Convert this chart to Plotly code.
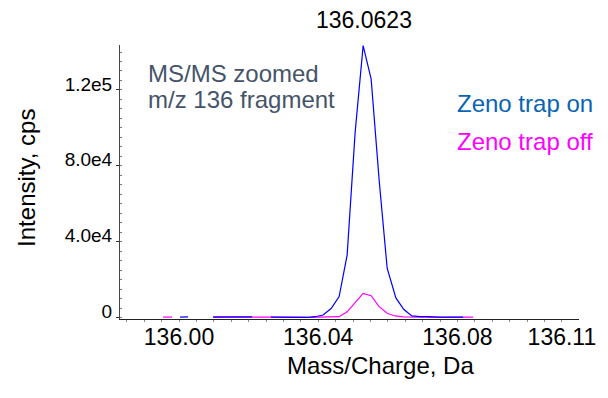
import plotly.graph_objects as go

# Zeno trap on (blue) - m/z and intensity (cps); None = gap in the profile
mz_on = [136.0003, 136.0026, None,
         136.0098, 136.0130, 136.0165, 136.0210, None,
         136.0264, 136.0300, 136.0335, 136.0371, 136.0391, 136.0414, 136.0437,
         136.0460, 136.0483, 136.0506, 136.0529, 136.0552, 136.0575, 136.0598,
         136.0623, 136.0646, 136.0669, 136.0692, 136.0715, 136.0750, 136.0784,
         136.0816]
int_on = [200, 300, None,
          300, 200, 400, 300, None,
          200, 300, 100, 100, 400, 1300, 4700,
          11000, 32900, 97600, 143400, 125700, 72400, 26000,
          10300, 4200, 800, 400, 500, 200, 300,
          200]

# Zeno trap off (magenta)
mz_off = [135.9954, 135.9980, None,
          136.0098, 136.0160, 136.0204, 136.0235, 136.0264, 136.0300, 136.0340,
          136.0371, 136.0414, 136.0460, 136.0483, 136.0506, 136.0529, 136.0552,
          136.0575, 136.0598, 136.0621, 136.0644, 136.0669, 136.0700, 136.0750,
          136.0800, 136.0845]
int_off = [200, 200, None,
           100, 200, 300, 200, 300, 100, 200,
           100, 200, 400, 3000, 7800, 12700, 11500,
           5700, 2200, 800, 300, 100, 200, 100,
           200, 200]

x_tickvals = [136.00, 136.04, 136.08, 136.11]
x_ticktext = ["136.00", "136.04", "136.08", "136.11"]
y_tickvals = [0, 40000, 80000, 120000]
y_ticktext = ["0", "4.0e4", "8.0e4", "1.2e5"]

FONT = "Liberation Sans, Arial, sans-serif"

fig = go.Figure()
fig.add_trace(go.Scatter(x=mz_off, y=int_off, mode="lines", name="Zeno trap off",
                         line=dict(color="#ff00ff", width=1.2), connectgaps=False))
fig.add_trace(go.Scatter(x=mz_on, y=int_on, mode="lines", name="Zeno trap on",
                         line=dict(color="#0000ff", width=1.2), connectgaps=False))

# the page body adds an 8px offset, so margins are reduced by 8px on top/left
fig.update_layout(
    width=608, height=398,
    margin=dict(l=112, r=37, t=37, b=87),
    paper_bgcolor="white", plot_bgcolor="white",
    showlegend=False,
    font=dict(family=FONT, color="black"),
    xaxis=dict(
        range=[135.98305, 136.11491],
        tickmode="array", tickvals=x_tickvals, ticktext=x_ticktext,
        tickfont=dict(size=23, family=FONT, color="black"),
        showgrid=False, zeroline=False,
        showline=True, linecolor="#222", linewidth=1,
        ticks="outside", ticklen=2, tickcolor="#888",
        ticklabelstandoff=-5,
        minor=dict(tick0=136.0, dtick=0.005, ticks="outside", ticklen=2,
                   tickcolor="#888", showgrid=False),
    ),
    yaxis=dict(
        range=[-800, 143700],
        tickmode="array", tickvals=y_tickvals, ticktext=y_ticktext,
        tickfont=dict(size=19, family=FONT, color="black"),
        showgrid=False, zeroline=False,
        showline=True, linecolor="#444", linewidth=1,
        ticks="outside", ticklen=3, tickcolor="#333",
        ticklabelshift=-6,
        minor=dict(dtick=5000, ticks="inside", ticklen=2, tickcolor="#777",
                   showgrid=False),
    ),
)

ann = [
    dict(text="136.0623", x=0.5316, y=1.0912, size=23, color="black", xanchor="center"),
    dict(text="MS/MS zoomed", x=0.0566, y=0.8978, size=24, color="#44546a", xanchor="left"),
    dict(text="m/z 136 fragment", x=0.0566, y=0.7993, size=24, color="#44546a", xanchor="left"),
    dict(text="Zeno trap on", x=0.7298, y=0.7847, size=24, color="#0a64b4", xanchor="left"),
    dict(text="Zeno trap off", x=0.7298, y=0.6496, size=24, color="#ff00ff", xanchor="left"),
    dict(text="Mass/Charge, Da", x=0.5686, y=-0.1715, size=24, color="black", xanchor="center"),
]
for a in ann:
    fig.add_annotation(text=a["text"], xref="paper", yref="paper", x=a["x"], y=a["y"],
                       xanchor=a["xanchor"], yanchor="middle", showarrow=False,
                       font=dict(size=a["size"], color=a["color"], family=FONT))
fig.add_annotation(text="Intensity, cps", xref="paper", yref="paper", x=-0.2026, y=0.515,
                   xanchor="center", yanchor="middle", showarrow=False, textangle=-90,
                   font=dict(size=24, color="black", family=FONT))

fig.write_html("out.html")
